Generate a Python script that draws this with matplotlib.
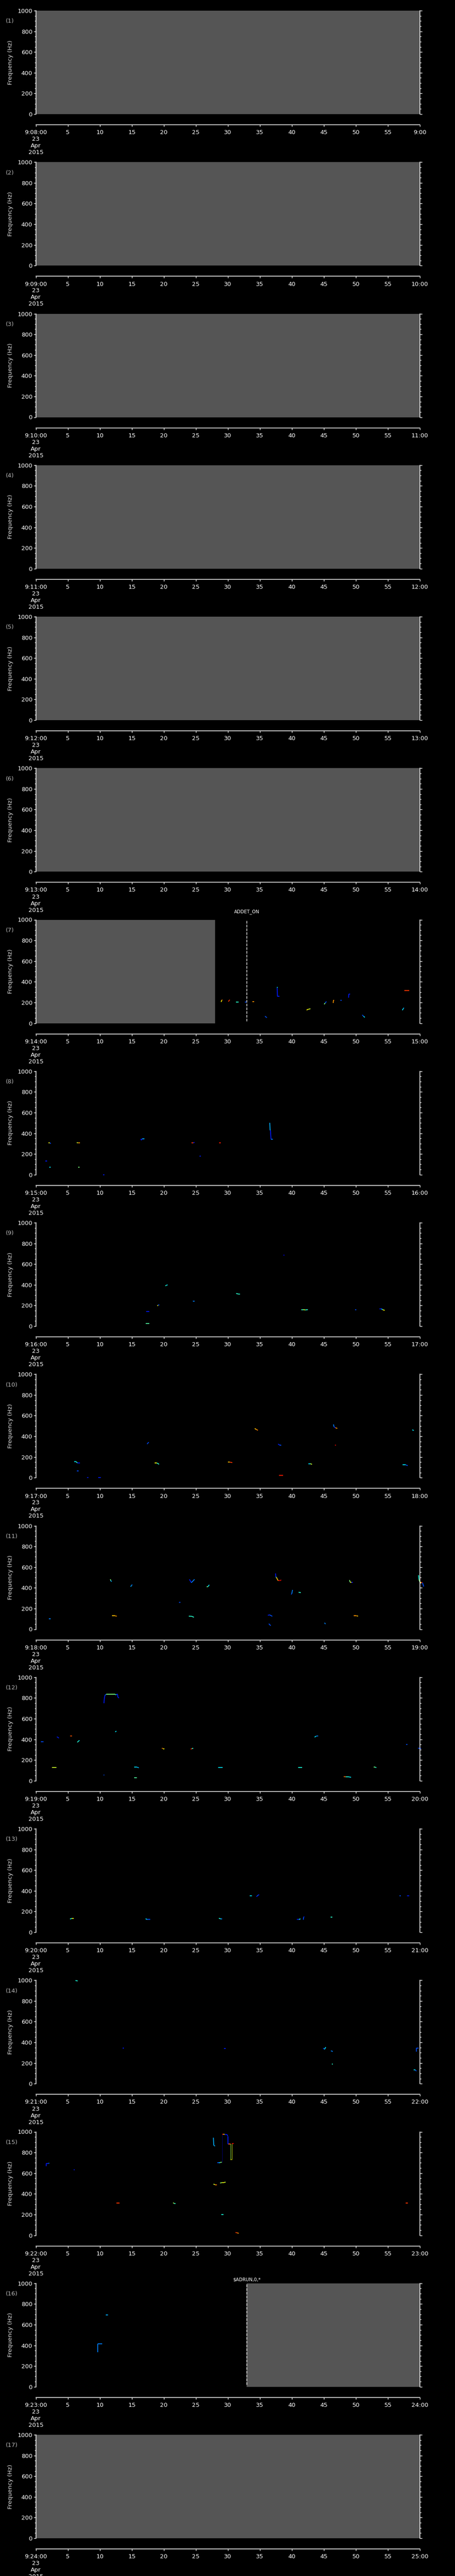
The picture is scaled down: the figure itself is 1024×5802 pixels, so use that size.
import numpy as np
import matplotlib.pyplot as plt
from matplotlib.collections import LineCollection
from matplotlib.ticker import MultipleLocator
import matplotlib.transforms as mtransforms

# ---- data ----
panel_minutes = list(range(8, 25))          # 9:08 ... 9:24, one minute per panel
date_text = "23\nApr\n2015"

gray_panel = [1, 2, 3, 4, 5, 6, 7, 16, 17]
gray_start = [0, 0, 0, 0, 0, 0, 0, 32.93, 0]
gray_end = [60, 60, 60, 60, 60, 60, 28.0, 60, 60]

event_panel = [7, 16]
event_time = [32.95, 32.93]
event_text = ["ADDET_ON", r"\$ADRUN,0,*"]

# tracks: (seconds, frequency Hz, colour level 0..1)
tracks_07 = [
    ([28.95, 29.05, 29.15], [205, 222, 226], [0.65, 0.78, 0.3]),
    ([30.1, 30.2, 30.3], [208, 220, 226], [0.85, 0.85, 0.9]),
    ([31.3, 31.7], [203, 203], [0.4, 0.7]),
    ([32.65, 33.0], [206, 206], [0.2, 0.2]),
    ([33.8, 34.1], [208, 208], [0.75, 0.2]),
    ([35.8, 36.1], [67, 53], [0.2, 0.2]),
    ([37.7, 37.7, 37.75, 38.1], [350, 340, 259, 259], [0.35, 0.15, 0.15, 0.2]),
    ([42.3, 42.6, 42.9], [127, 135, 139], [0.65, 0.6, 0.15]),
    ([45.05, 45.2, 45.4], [182, 195, 209], [0.5, 0.2, 0.15]),
    ([46.45, 46.5, 46.6], [195, 220, 220], [0.75, 0.75, 0.2]),
    ([47.6, 47.8], [220, 220], [0.2, 0.65]),
    ([48.85, 48.9, 49.1], [246, 282, 282], [0.15, 0.15, 0.4]),
    ([51.0, 51.2, 51.4], [80, 66, 56], [0.2, 0.35, 0.4]),
    ([57.25, 57.4, 57.5], [125, 140, 149], [0.35, 0.3, 0.4]),
    ([57.6, 58.3], [315, 315], [0.85, 0.4]),
]
tracks_08 = [
    ([1.5, 1.8], [132, 132], [0.15, 0.15]),
    ([2.0, 2.2, 2.35], [308, 308, 300], [0.65, 0.2, 0.15]),
    ([2.1, 2.35], [72, 72], [0.35, 0.2]),
    ([6.4, 6.6, 6.9], [311, 307, 307], [0.6, 0.75, 0.35]),
    ([6.6, 6.85], [72, 72], [0.5, 0.5]),
    ([10.5, 10.7], [1, 1], [0.15, 0.15]),
    ([16.4, 16.5, 16.6, 16.95], [345, 333, 348, 348], [0.15, 0.15, 0.3, 0.4]),
    ([24.3, 24.6, 24.8], [309, 309, 312], [0.85, 0.15, 0.15]),
    ([25.55, 25.8], [179, 179], [0.15, 0.15]),
    ([28.6, 28.9], [308, 308], [0.88, 0.55]),
    ([36.55, 36.6, 36.65, 36.75, 37.0], [501, 431, 428, 342, 342], [0.3, 0.3, 0.15, 0.25, 0.3]),
]
tracks_09 = [
    ([17.25, 17.75], [141, 141], [0.15, 0.65]),
    ([17.2, 17.75], [26, 26], [0.45, 0.65]),
    ([19.0, 19.1, 19.3], [196, 204, 206], [0.65, 0.2, 0.15]),
    ([20.25, 20.4, 20.6], [389, 396, 399], [0.4, 0.35, 0.3]),
    ([24.55, 24.7, 24.8], [244, 239, 244], [0.25, 0.25, 0.25]),
    ([31.3, 31.6, 31.9], [317, 311, 310], [0.4, 0.4, 0.15]),
    ([38.7, 38.8], [686, 686], [0.12, 0.12]),
    ([41.5, 41.8, 42.1, 42.5], [160, 160, 157, 160], [0.4, 0.6, 0.4, 0.15]),
    ([49.9, 50.1], [159, 159], [0.2, 0.2]),
    ([53.7, 54.0, 54.2, 54.5], [167, 167, 159, 153], [0.15, 0.35, 0.65, 0.15]),
]
tracks_10 = [
    ([6.0, 6.3, 6.5, 6.9], [155, 155, 143, 142], [0.35, 0.4, 0.15, 0.15]),
    ([6.4, 6.7], [64, 64], [0.2, 0.2]),
    ([8.0, 8.25], [1, 1], [0.15, 0.15]),
    ([9.75, 10.15], [1, 1], [0.15, 0.15]),
    ([17.4, 17.5, 17.65], [325, 334, 343], [0.2, 0.2, 0.15]),
    ([18.55, 18.9, 19.05, 19.25], [141, 141, 139, 129], [0.65, 0.4, 0.4, 0.4]),
    ([30.0, 30.3, 30.7], [150, 150, 146], [0.7, 0.85, 0.85]),
    ([34.2, 34.45, 34.7], [476, 466, 458], [0.7, 0.78, 0.8]),
    ([37.85, 38.05, 38.35], [326, 316, 313], [0.15, 0.2, 0.45]),
    ([38.0, 38.6], [21, 21], [0.88, 0.35]),
    ([42.6, 42.9, 43.15], [135, 135, 129], [0.35, 0.6, 0.45]),
    ([46.5, 46.6, 46.8, 47.1], [515, 490, 483, 476], [0.25, 0.15, 0.75, 0.45]),
    ([46.75, 46.9], [313, 313], [0.9, 0.9]),
    ([57.3, 57.8, 58.1], [124, 124, 116], [0.35, 0.2, 0.15]),
    ([58.8, 59.05], [463, 456], [0.35, 0.2]),
]
tracks_11 = [
    ([2.05, 2.35], [99, 99], [0.25, 0.25]),
    ([11.65, 11.7, 11.85], [483, 470, 460], [0.5, 0.3, 0.2]),
    ([11.9, 12.4, 12.65], [129, 129, 126], [0.7, 0.75, 0.4]),
    ([14.8, 14.95, 15.05], [412, 420, 432], [0.3, 0.25, 0.35]),
    ([22.35, 22.6], [258, 258], [0.2, 0.2]),
    ([24.0, 24.3, 24.8], [482, 450, 482], [0.15, 0.25, 0.2]),
    ([23.9, 24.4, 24.7], [126, 124, 115], [0.4, 0.4, 0.2]),
    ([26.7, 26.9, 27.1], [410, 412, 429], [0.5, 0.35, 0.2]),
    ([36.25, 36.5, 36.95], [134, 139, 125], [0.15, 0.2, 0.35]),
    ([36.4, 36.7], [53, 34], [0.2, 0.2]),
    ([37.45, 37.5, 37.6, 37.85, 38.1, 38.35], [539, 505, 500, 469, 469, 476], [0.15, 0.4, 0.7, 0.9, 0.9, 0.3]),
    ([39.9, 40.0, 40.1], [336, 345, 380], [0.2, 0.25, 0.35]),
    ([41.05, 41.4], [357, 353], [0.4, 0.4]),
    ([45.1, 45.25], [62, 50], [0.25, 0.25]),
    ([49.0, 49.1, 49.3, 49.55], [475, 455, 452, 452], [0.5, 0.65, 0.15, 0.15]),
    ([49.65, 50.1, 50.35], [129, 129, 127], [0.75, 0.7, 0.4]),
    ([59.8, 59.85, 60.0, 60.2, 60.4, 60.6], [522, 480, 455, 452, 450, 412], [0.38, 0.5, 0.65, 0.9, 0.2, 0.2]),
]
tracks_12 = [
    ([0.8, 1.2], [375, 375], [0.2, 0.35]),
    ([3.3, 3.5, 3.6], [424, 418, 411], [0.15, 0.15, 0.15]),
    ([5.4, 5.65], [431, 431], [0.82, 0.82]),
    ([6.5, 6.7, 6.85], [371, 385, 389], [0.4, 0.35, 0.3]),
    ([2.5, 3.2], [127, 127], [0.6, 0.6]),
    ([10.6, 10.7], [57, 53], [0.2, 0.2]),
    ([10.65, 10.7, 10.8, 11.0, 12.4, 12.55, 12.75, 12.85, 13.0],
     [749, 790, 825, 835, 835, 830, 838, 805, 800],
     [0.15, 0.15, 0.2, 0.5, 0.4, 0.2, 0.15, 0.15, 0.15]),
    ([12.4, 12.6], [472, 479], [0.35, 0.25]),
    ([15.4, 15.8, 16.1], [131, 131, 125], [0.35, 0.3, 0.2]),
    ([15.4, 15.8], [29, 29], [0.45, 0.45]),
    ([19.7, 19.85, 20.1], [315, 310, 310], [0.78, 0.65, 0.7]),
    ([24.2, 24.4, 24.6], [305, 311, 312], [0.85, 0.4, 0.4]),
    ([28.5, 29.2], [127, 127], [0.35, 0.2]),
    ([41.0, 41.6], [127, 127], [0.38, 0.38]),
    ([43.55, 43.8, 44.1], [421, 431, 431], [0.35, 0.25, 0.2]),
    ([48.1, 48.4, 48.8, 49.25], [40, 38, 38, 33], [0.8, 0.4, 0.35, 0.2]),
    ([52.75, 53.0, 53.2], [131, 131, 126], [0.5, 0.4, 0.4]),
    ([57.85, 58.05], [350, 350], [0.2, 0.2]),
    ([59.7, 60.2], [315, 310], [0.2, 0.15]),
]
tracks_13 = [
    ([5.35, 5.65, 5.95], [128, 134, 134], [0.4, 0.65, 0.6]),
    ([17.15, 17.4, 17.9], [130, 124, 124], [0.35, 0.2, 0.2]),
    ([28.6, 28.9, 29.1], [135, 129, 129], [0.38, 0.25, 0.2]),
    ([33.45, 33.75], [350, 350], [0.35, 0.2]),
    ([34.45, 34.6, 34.75, 34.9], [344, 350, 360, 363], [0.15, 0.2, 0.15, 0.15]),
    ([40.8, 41.1, 41.35], [124, 124, 129], [0.15, 0.38, 0.3]),
    ([41.8, 41.85, 41.95], [121, 148, 150], [0.2, 0.15, 0.15]),
    ([46.05, 46.35], [148, 148], [0.4, 0.4]),
    ([56.8, 57.05], [350, 350], [0.2, 0.2]),
    ([58.0, 58.3], [350, 350], [0.15, 0.2]),
]
tracks_14 = [
    ([6.2, 6.55], [997, 994], [0.38, 0.2]),
    ([13.55, 13.75], [346, 346], [0.15, 0.15]),
    ([29.4, 29.7], [342, 342], [0.15, 0.15]),
    ([44.9, 45.1, 45.3], [344, 333, 354], [0.2, 0.35, 0.2]),
    ([46.1, 46.4], [318, 312], [0.25, 0.2]),
    ([46.25, 46.4], [191, 191], [0.4, 0.4]),
    ([59.0, 59.3, 59.45], [132, 132, 122], [0.35, 0.2, 0.2]),
    ([59.45, 59.45, 59.8], [312, 346, 346], [0.2, 0.2, 0.2]),
]
tracks_15 = [
    ([1.65, 1.65, 2.0, 2.1], [669, 695, 695, 697], [0.15, 0.15, 0.3, 0.25]),
    ([5.9, 6.05], [633, 633], [0.15, 0.15]),
    ([12.6, 13.05], [310, 310], [0.85, 0.75]),
    ([21.45, 21.6, 21.8], [314, 308, 308], [0.55, 0.4, 0.45]),
    ([27.75, 27.8, 27.9, 28.0], [943, 870, 866, 862], [0.3, 0.3, 0.3, 0.25]),
    ([27.75, 28.0, 28.3], [494, 489, 489], [0.6, 0.78, 0.9]),
    ([28.35, 28.6, 28.8, 29.05], [700, 700, 703, 706], [0.2, 0.35, 0.5, 0.65]),
    ([28.8, 29.1, 29.4, 29.65], [505, 509, 509, 514], [0.55, 0.65, 0.6, 0.7]),
    ([28.95, 29.3], [199, 199], [0.38, 0.6]),
    ([29.1, 29.3, 29.5, 29.9, 30.0], [977, 977, 975, 972, 957], [0.9, 0.65, 0.15, 0.15, 0.15]),
    ([30.0, 30.0, 30.1, 30.4], [957, 884, 882, 882], [0.15, 0.15, 0.8, 0.8]),
    ([30.4, 30.6], [733, 733], [0.65, 0.6]),
    ([30.65, 30.9], [888, 888], [0.9, 0.9]),
    ([31.2, 31.45, 31.7], [27, 23, 19], [0.85, 0.75, 0.2]),
    ([57.75, 58.1], [310, 310], [0.85, 0.4]),
]
thin_15 = [  # (seconds, f low, f high, level)
    (29.1, 706, 976, 0.0),
    (30.4, 730, 882, 0.55),
    (30.65, 730, 888, 0.62),
]
tracks_16 = [
    ([10.95, 11.3], [694, 694], [0.3, 0.3]),
    ([9.7, 9.7, 10.4], [333, 416, 416], [0.25, 0.25, 0.25]),
]
panel_tracks = {7: tracks_07, 8: tracks_08, 9: tracks_09, 10: tracks_10,
                11: tracks_11, 12: tracks_12, 13: tracks_13, 14: tracks_14,
                15: tracks_15, 16: tracks_16}
panel_thin = {15: thin_15}

# ---- layout (pixels) ----
W, H = 1024, 5802
X0, XW = 80.5, 864.5
TOP0, STEP, PH = 24, 341.25, 233
label_lift = [18, 8]    # px above the plot top for the event labels
cmap = plt.get_cmap('jet')

fig = plt.figure(figsize=(W / 100, H / 100), dpi=100, facecolor='black')

for i, minute in enumerate(panel_minutes):
    n = i + 1
    top = TOP0 + i * STEP
    ax = fig.add_axes([X0 / W, 1 - (top + PH) / H, XW / W, PH / H])
    ax.set_facecolor('black')
    ax.set_xlim(0, 60)
    ax.set_ylim(0, 1000)

    for sp in ('left', 'right', 'bottom'):
        ax.spines[sp].set_color('white')
        ax.spines[sp].set_linewidth(1.1)
        ax.spines[sp].set_zorder(5)
    ax.spines['top'].set_visible(False)
    ax.spines['bottom'].set_position(('outward', 24 * 0.72))

    ax.yaxis.set_major_locator(MultipleLocator(200))
    ax.yaxis.set_minor_locator(MultipleLocator(50))
    ax.tick_params(axis='y', which='both', left=True, right=True, direction='out',
                   color='white', width=1, labelcolor='white', labelsize=9.5, pad=2.2)
    ax.tick_params(axis='y', which='major', length=3.3)
    ax.tick_params(axis='y', which='minor', length=2.2)

    xt = list(range(0, 61, 5))
    xl = [f"9:{minute:02d}:00\n{date_text}"] + [str(v) for v in xt[1:-1]] + [f"{minute + 1}:00"]
    ax.set_xticks(xt, xl)
    ax.tick_params(axis='x', which='major', direction='out', length=3.1, width=1,
                   color='white', labelcolor='white', labelsize=9.5, pad=5)

    ax.text(-0.0786, 0.897, f"({n})", transform=ax.transAxes, color='#b8b8b8',
            fontsize=9.5, ha='left', va='center')
    ax.text(-0.066, 0.5, "Frequency (Hz)", transform=ax.transAxes, color='#dcdcdc',
            fontsize=9.5, rotation=90, ha='center', va='center')

    for p, s0, s1 in zip(gray_panel, gray_start, gray_end):
        if p == n:
            ax.axvspan(s0, s1, color='#555555', lw=0, zorder=1)

    for t, f, c in panel_tracks.get(n, []):
        pts = np.column_stack([t, f])
        segs = np.stack([pts[:-1], pts[1:]], axis=1)
        lc = LineCollection(segs, colors=cmap(np.array(c[:-1])), linewidths=1.3,
                            capstyle='butt', clip_on=False, zorder=3)
        ax.add_collection(lc)
    for t, f0, f1, c in panel_thin.get(n, []):
        ax.plot([t, t], [f0, f1], color=cmap(c), lw=0.6, zorder=2)

    trans = mtransforms.blended_transform_factory(ax.transData, ax.transAxes)
    for k, (p, t, label) in enumerate(zip(event_panel, event_time, event_text)):
        if p == n:
            ax.axvline(t, ymin=0.02, ymax=1.0, color='white', lw=1.0,
                       dashes=(4.3, 1.8), zorder=4)
            ax.text(t, 1 + label_lift[k] / PH, label, transform=trans, color='white',
                    fontsize=7.5, ha='center', va='center')

fig.savefig('out.png', dpi=100, facecolor='black')
